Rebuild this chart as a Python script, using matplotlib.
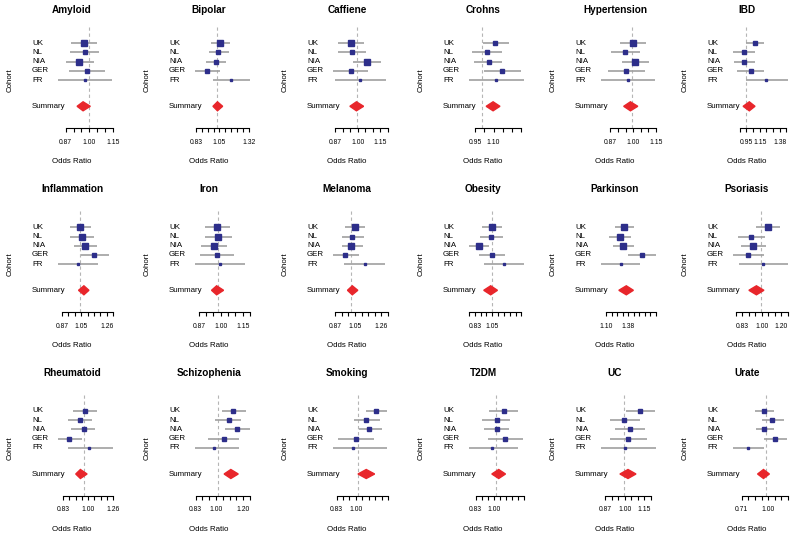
import numpy as np
import matplotlib
matplotlib.use('Agg')
import matplotlib.pyplot as plt
from matplotlib.patches import Polygon
from matplotlib.ticker import NullLocator

plt.rcParams['font.family'] = ['Liberation Sans', 'DejaVu Sans']

traits = ['Amyloid', 'Bipolar', 'Caffiene', 'Crohns', 'Hypertension', 'IBD',
          'Inflammation', 'Iron', 'Melanoma', 'Obesity', 'Parkinson', 'Psoriasis',
          'Rheumatoid', 'Schizophenia', 'Smoking', 'T2DM', 'UC', 'Urate']
cohorts = ['UK', 'NL', 'NIA', 'GER', 'FR']

# odds ratios per cohort, order UK, NL, NIA, GER, FR
oddsRatio = [
    [0.965, 0.974, 0.935, 0.984, 0.974],
    [1.025, 1.009, 0.988, 0.915, 1.130],
    [0.960, 0.968, 1.061, 0.958, 1.019],
    [1.090, 1.033, 1.045, 1.141, 1.095],
    [1.007, 0.957, 1.022, 0.963, 0.974],
    [1.079, 0.983, 0.986, 1.040, 1.185],
    [1.002, 1.017, 1.037, 1.116, 0.983],
    [0.989, 1.000, 0.967, 0.989, 1.011],
    [1.028, 1.008, 1.000, 0.949, 1.121],
    [1.000, 0.989, 0.862, 1.000, 1.139],
    [1.290, 1.240, 1.282, 1.540, 1.249],
    [1.073, 0.914, 0.929, 0.884, 1.027],
    [1.010, 0.970, 1.000, 0.878, 1.047],
    [1.130, 1.090, 1.170, 1.050, 0.966],
    [1.170, 1.075, 1.105, 0.982, 0.956],
    [1.075, 1.009, 1.009, 1.085, 0.964],
    [1.126, 1.000, 1.045, 1.030, 1.007],
    [0.973, 1.085, 0.973, 1.130, 0.771],
]
lowerCI = [
    [0.884, 0.879, 0.855, 0.873, 0.812],
    [0.950, 0.927, 0.907, 0.823, 0.964],
    [0.888, 0.888, 0.974, 0.858, 0.867],
    [1.002, 0.935, 0.948, 1.009, 0.914],
    [0.922, 0.871, 0.936, 0.854, 0.815],
    [1.000, 0.898, 0.903, 0.929, 1.000],
    [0.923, 0.925, 0.952, 1.007, 0.843],
    [0.910, 0.906, 0.884, 0.876, 0.847],
    [0.949, 0.922, 0.920, 0.854, 0.941],
    [0.894, 0.871, 0.777, 0.862, 0.911],
    [1.176, 1.118, 1.160, 1.343, 1.029],
    [0.961, 0.807, 0.826, 0.765, 0.813],
    [0.910, 0.870, 0.895, 0.793, 0.870],
    [1.035, 0.974, 1.054, 0.917, 0.826],
    [1.076, 0.964, 1.010, 0.840, 0.804],
    [0.938, 0.880, 0.897, 0.930, 0.780],
    [1.015, 0.900, 0.935, 0.900, 0.843],
    [0.850, 0.934, 0.860, 0.973, 0.628],
]
upperCI = [
    [1.055, 1.069, 1.032, 1.111, 1.166],
    [1.116, 1.106, 1.083, 1.025, 1.336],
    [1.042, 1.057, 1.159, 1.072, 1.195],
    [1.196, 1.141, 1.141, 1.294, 1.324],
    [1.099, 1.052, 1.116, 1.087, 1.166],
    [1.165, 1.079, 1.079, 1.165, 1.421],
    [1.084, 1.111, 1.143, 1.251, 1.149],
    [1.084, 1.101, 1.065, 1.114, 1.210],
    [1.121, 1.111, 1.102, 1.072, 1.331],
    [1.110, 1.118, 0.964, 1.152, 1.408],
    [1.426, 1.380, 1.426, 1.771, 1.514],
    [1.206, 1.044, 1.055, 1.034, 1.307],
    [1.130, 1.080, 1.107, 0.980, 1.300],
    [1.260, 1.210, 1.300, 1.190, 1.190],
    [1.290, 1.210, 1.230, 1.146, 1.290],
    [1.232, 1.146, 1.136, 1.290, 1.230],
    [1.258, 1.126, 1.168, 1.186, 1.268],
    [1.116, 1.280, 1.116, 1.330, 0.973],
]
# relative study weight (box size)
weight = [
    [1.0, 0.9, 1.0, 0.75, 0.55],
    [1.0, 0.9, 0.9, 0.75, 0.5],
    [1.0, 0.9, 1.0, 0.75, 0.5],
    [0.9, 0.8, 0.8, 0.7, 0.45],
    [1.0, 0.9, 1.0, 0.75, 0.5],
    [0.9, 0.9, 0.9, 0.75, 0.5],
    [0.95, 0.95, 0.95, 0.75, 0.5],
    [0.95, 0.95, 0.95, 0.75, 0.5],
    [0.95, 0.9, 0.95, 0.7, 0.45],
    [0.95, 0.9, 1.0, 0.8, 0.5],
    [0.95, 0.95, 0.95, 0.8, 0.5],
    [0.95, 0.9, 0.95, 0.8, 0.55],
    [0.9, 0.9, 0.9, 0.75, 0.5],
    [0.9, 0.85, 0.9, 0.75, 0.5],
    [0.9, 0.9, 0.9, 0.75, 0.5],
    [0.9, 0.9, 0.9, 0.75, 0.5],
    [0.9, 0.9, 0.9, 0.75, 0.5],
    [0.85, 0.85, 0.85, 0.75, 0.5],
]
summaryOR = [0.961, 1.003, 0.994, 1.075, 0.989, 1.029, 1.030, 0.987, 1.008,
             0.982, 1.321, 0.961, 0.970, 1.110, 1.075, 1.028, 1.030, 0.960]
summaryLo = [0.923, 0.964, 0.954, 1.026, 0.946, 0.977, 0.988, 0.952, 0.967,
             0.911, 1.227, 0.893, 0.930, 1.050, 1.000, 0.964, 0.970, 0.884]
summaryHi = [1.009, 1.050, 1.040, 1.126, 1.038, 1.079, 1.071, 1.037, 1.057,
             1.057, 1.417, 1.034, 1.030, 1.180, 1.157, 1.095, 1.093, 1.042]

# axis ticks: range, count, which ticks carry a label, label text
tickLo = [0.855, 0.83, 0.87, 0.952, 0.867, 0.95, 0.87, 0.87, 0.87,
          0.777, 1.085, 0.784, 0.83, 0.83, 0.83, 0.83, 0.87, 0.71]
tickHi = [1.175, 1.32, 1.212, 1.30, 1.17, 1.40, 1.29, 1.25, 1.37,
          1.37, 1.77, 1.305, 1.30, 1.30, 1.30, 1.30, 1.22, 1.35]
tickCount = [7, 10, 8, 6, 7, 8, 9, 8, 9, 10, 10, 9, 9, 9, 9, 9, 8, 8]
tickShown = [[0, 3, 6], [0, 4, 9], [0, 3, 6], [0, 2], [0, 3, 6], [1, 3, 6],
             [0, 3, 7], [0, 3, 6], [0, 3, 7], [1, 4], [0, 4], [1, 4, 7],
             [0, 4, 8], [0, 3, 7], [0, 3], [0, 3], [0, 3, 6], [0, 4]]
tickText = [['0.87', '1.00', '1.15'], ['0.83', '1.05', '1.32'], ['0.87', '1.00', '1.15'],
            ['0.95', '1.10'], ['0.87', '1.00', '1.15'], ['0.95', '1.15', '1.38'],
            ['0.87', '1.05', '1.26'], ['0.87', '1.00', '1.15'], ['0.87', '1.05', '1.26'],
            ['0.83', '1.05'], ['1.10', '1.38'], ['0.83', '1.00', '1.20'],
            ['0.83', '1.00', '1.26'], ['0.83', '1.00', '1.20'], ['0.83', '1.00'],
            ['0.83', '1.00'], ['0.87', '1.00', '1.15'], ['0.71', '1.00']]

W, H = 800, 539
labelX = [32, 169, 307, 443, 575, 707]   # left edge of cohort labels per column (px)
rowTop = [43.3, 227.3, 411]              # y of the UK row per panel row (px)
titleY = [10, 189, 373]
rowStep = 9.2
summaryOff = 63
axisOff = 85

boxColor = '#2d2e8a'
ciColor = '#a0a0a0'
diamondColor = '#e8262b'

fig = plt.figure(figsize=(W / 100, H / 100), dpi=100)

for i, trait in enumerate(traits):
    r, c = divmod(i, 6)
    lx = labelX[c]
    uy = rowTop[r]

    left = lx + 26
    ax = fig.add_axes([left / W, 1 - (uy + axisOff) / H, 55 / W, (axisOff + 16) / H])
    ax.set_xscale('log')
    ax.set_ylim(axisOff, -16)

    lo = min(lowerCI[i] + [summaryLo[i], tickLo[i]])
    hi = max(upperCI[i] + [summaryHi[i], tickHi[i]])
    ax.set_xlim(lo, hi)

    ax.axvline(1.0, color='#b5b5b5', lw=0.8, ls=(0, (3, 2.5)), zorder=1)

    ys = [j * rowStep for j in range(len(cohorts))]
    ax.hlines(ys, lowerCI[i], upperCI[i], color=ciColor, lw=1.2, zorder=2)
    for j in range(len(cohorts)):
        ax.plot(oddsRatio[i][j], ys[j], 's', color=boxColor, mec=boxColor,
                ms=3.9 * weight[i][j], zorder=3)

    dh = 4.5
    diamond = Polygon([[summaryLo[i], summaryOff], [summaryOR[i], summaryOff - dh],
                       [summaryHi[i], summaryOff], [summaryOR[i], summaryOff + dh]],
                      closed=True, color=diamondColor, zorder=3)
    ax.add_patch(diamond)

    ticks = np.exp(np.linspace(np.log(tickLo[i]), np.log(tickHi[i]), tickCount[i]))
    labels = [''] * tickCount[i]
    for k, idx in enumerate(tickShown[i]):
        labels[idx] = tickText[i][k]
    ax.set_xticks(ticks)
    ax.set_xticklabels(labels)
    ax.xaxis.set_minor_locator(NullLocator())
    ax.tick_params(axis='x', direction='out', length=3, width=0.8, pad=4.5,
                   labelsize=4.9, color='black')
    ax.set_yticks([])
    for s in ['top', 'left', 'right']:
        ax.spines[s].set_visible(False)
    ax.spines['bottom'].set_bounds(ticks[0], ticks[-1])
    ax.spines['bottom'].set_linewidth(0.8)
    ax.patch.set_visible(False)

    # labels and titles
    for j, name in enumerate(cohorts):
        fig.text(lx / W, 1 - (uy + ys[j]) / H, name, fontsize=5.7, ha='left', va='center')
    fig.text(lx / W, 1 - (uy + summaryOff) / H, 'Summary', fontsize=5.7, ha='left', va='center')
    fig.text((lx - 22) / W, 1 - (uy + 37) / H, 'Cohort', fontsize=5.7, rotation=90,
             ha='center', va='center')
    fig.text((lx + 40) / W, 1 - titleY[r] / H, trait, fontsize=7.2, fontweight='bold',
             ha='center', va='center')
    fig.text((lx + 40) / W, 1 - (uy + 118.5) / H, 'Odds Ratio', fontsize=5.7,
             ha='center', va='center')

fig.savefig('out.png', dpi=100)
